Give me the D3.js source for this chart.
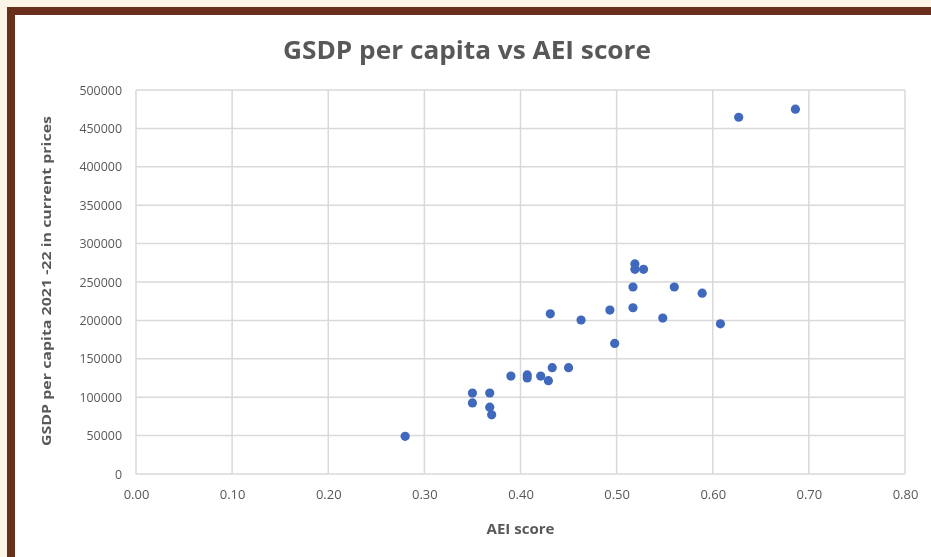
<!DOCTYPE html>
<html>
<head>
<meta charset="utf-8">
<script src="https://cdn.jsdelivr.net/npm/d3@7"></script>
<style>
  html, body { margin: 0; padding: 0; background: #fdf4e8; }
  svg { display: block; }
</style>
</head>
<body>
<svg id="chart" width="931" height="557"></svg>
<script>
// AEI score (x) and GSDP per capita 2021-22 in current prices (y), one entry per state
const aeiScore = [0.28, 0.35, 0.35, 0.368, 0.368, 0.37, 0.39, 0.407, 0.407, 0.421,
  0.429, 0.433, 0.45, 0.431, 0.463, 0.493, 0.498, 0.517, 0.517, 0.519,
  0.519, 0.528, 0.548, 0.56, 0.589, 0.608, 0.627, 0.686];
const gsdpPerCapita = [49000, 105500, 92500, 105500, 87000, 77000, 127500, 129000, 125000, 127500,
  121500, 138500, 138500, 208500, 200500, 213500, 170000, 216500, 243500, 273500,
  266500, 266500, 203000, 243500, 235500, 195500, 464500, 475000];
const xTicks = [0, 0.1, 0.2, 0.3, 0.4, 0.5, 0.6, 0.7, 0.8];
const yTicks = [0, 50000, 100000, 150000, 200000, 250000, 300000, 350000, 400000, 450000, 500000];

const titleText = "GSDP per capita vs AEI score";
const xTitle = "AEI score";
const yTitle = "GSDP per capita 2021 -22 in current prices";

const svg = d3.select("#chart");
const font = "'Open Sans', 'Liberation Sans', sans-serif";
const textColor = "#595959";

const defs = svg.append("defs");
defs.append("filter").attr("id", "soft")
  .append("feGaussianBlur").attr("stdDeviation", 0.45);

const root = svg.append("g").attr("filter", "url(#soft)");

// page background and brown frame
root.append("rect").attr("x", 0).attr("y", 0).attr("width", 931).attr("height", 557).attr("fill", "#fdf4e8");
root.append("rect").attr("x", 7).attr("y", 7).attr("width", 924).attr("height", 550).attr("fill", "#6b2e1f");
root.append("rect").attr("x", 15).attr("y", 15).attr("width", 916).attr("height", 542).attr("fill", "#ffffff");

const plot = { left: 136, right: 905, top: 90, bottom: 474 };

const x = d3.scaleLinear().domain([0, 0.8]).range([plot.left, plot.right]);
const y = d3.scaleLinear().domain([0, 500000]).range([plot.bottom, plot.top]);

// gridlines
const grid = root.append("g");
grid.selectAll("line.v").data(xTicks).join("line")
  .attr("x1", d => x(d)).attr("x2", d => x(d))
  .attr("y1", plot.top).attr("y2", plot.bottom)
  .attr("stroke", "#d9d9d9").attr("stroke-width", 1.5);
grid.selectAll("line.h").data(yTicks).join("line")
  .attr("x1", plot.left).attr("x2", plot.right)
  .attr("y1", d => y(d)).attr("y2", d => y(d))
  .attr("stroke", "#d9d9d9").attr("stroke-width", 1.5);

// axes (labels only, lines come from the grid)
const xAxis = d3.axisBottom(x).tickValues(xTicks).tickFormat(d3.format(".2f")).tickSize(0).tickPadding(16);
const yAxis = d3.axisLeft(y).tickValues(yTicks).tickFormat(d3.format("d")).tickSize(0).tickPadding(14);

const gx = root.append("g").attr("transform", `translate(0,${plot.bottom})`).call(xAxis);
const gy = root.append("g").attr("transform", `translate(${plot.left},0)`).call(yAxis);
[gx, gy].forEach(g => {
  g.select(".domain").remove();
  g.selectAll("text").attr("font-family", font).attr("font-size", 13).attr("fill", textColor);
});
gy.selectAll("text").attr("textLength", function () { return this.textContent.length * 7.1; })
  .attr("lengthAdjust", "spacingAndGlyphs");

// points
root.append("g").selectAll("circle")
  .data(aeiScore.map((v, i) => [v, gsdpPerCapita[i]]))
  .join("circle")
  .attr("cx", d => x(d[0])).attr("cy", d => y(d[1]))
  .attr("r", 4.6).attr("fill", "#3f68bd");

// titles
root.append("text").attr("x", 467).attr("y", 59).attr("text-anchor", "middle")
  .attr("font-family", font).attr("font-weight", 700).attr("font-size", 25)
  .attr("fill", textColor).attr("textLength", 368).attr("lengthAdjust", "spacingAndGlyphs")
  .text(titleText);
root.append("text").attr("x", (plot.left + plot.right) / 2).attr("y", 534).attr("text-anchor", "middle")
  .attr("font-family", font).attr("font-weight", 700).attr("font-size", 14)
  .attr("fill", textColor).attr("textLength", 68).attr("lengthAdjust", "spacingAndGlyphs")
  .text(xTitle);
root.append("text").attr("transform", `translate(51,${(plot.top + plot.bottom) / 2 - 1}) rotate(-90)`)
  .attr("text-anchor", "middle")
  .attr("font-family", font).attr("font-weight", 700).attr("font-size", 13)
  .attr("fill", textColor).attr("textLength", 330).attr("lengthAdjust", "spacingAndGlyphs")
  .text(yTitle);
</script>
</body>
</html>
